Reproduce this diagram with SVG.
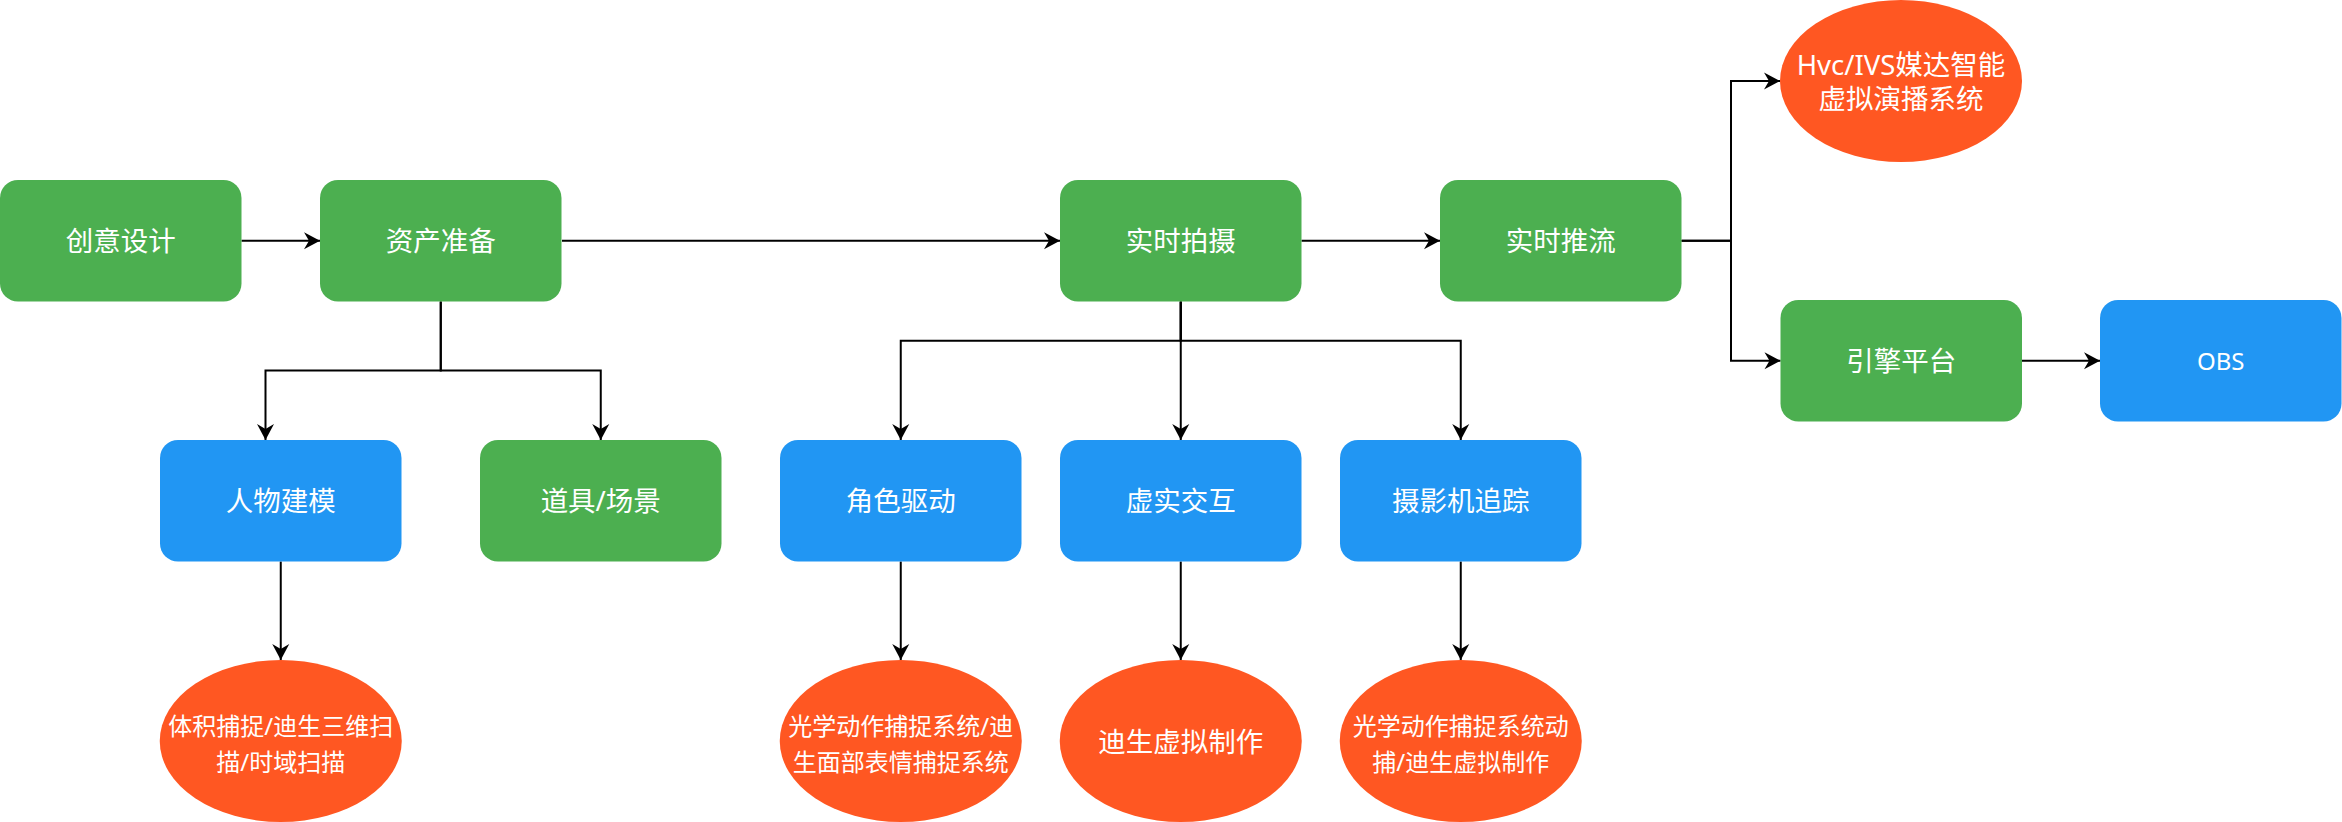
<svg xmlns="http://www.w3.org/2000/svg" width="2342" height="822" viewBox="0 0 2342 822">
<style>
.g{fill:#4CAF50}
.b{fill:#2196F3}
.o{fill:#FF5722}
.t{fill:#FFFFFF;font-family:"Noto Sans","Noto Sans CJK SC",sans-serif;font-size:27.5px;text-anchor:middle;dominant-baseline:central}
.s{font-size:24px}
.e{fill:none;stroke:#000000;stroke-width:2;marker-end:url(#arr)}
</style>
<defs>
<marker id="arr" markerUnits="userSpaceOnUse" markerWidth="20" markerHeight="20" viewBox="-17 -10 20 20" refX="0" refY="0" orient="auto">
<path d="M0,0 L-16,-8.5 L-11,0 L-16,8.5 Z" fill="#000000"/>
</marker>
</defs>
<rect width="2342" height="822" fill="#FFFFFF"/>
<g id="connectors">
<path class="e" d="M241.5,240.75 L320,240.75"/>
<path class="e" d="M562,240.75 L1060,240.75"/>
<path class="e" d="M1301.5,240.75 L1440,240.75"/>
<path class="e" d="M1681.5,240.75 L1731,240.75 L1731,81 L1780,81"/>
<path class="e" d="M1681.5,240.75 L1731,240.75 L1731,360.75 L1780.5,360.75"/>
<path class="e" d="M2021.5,360.75 L2100,360.75"/>
<path class="e" d="M440.75,301.5 L440.75,370.5 L265.5,370.5 L265.5,440"/>
<path class="e" d="M440.75,301.5 L440.75,370.5 L600.75,370.5 L600.75,440"/>
<path class="e" d="M1180.75,301.5 L1180.75,340.75 L900.75,340.75 L900.75,440"/>
<path class="e" d="M1180.75,301.5 L1180.75,440"/>
<path class="e" d="M1180.75,301.5 L1180.75,340.75 L1460.75,340.75 L1460.75,440"/>
<path class="e" d="M280.75,561.5 L280.75,660"/>
<path class="e" d="M900.75,561.5 L900.75,660"/>
<path class="e" d="M1180.75,561.5 L1180.75,660"/>
<path class="e" d="M1460.75,561.5 L1460.75,660"/>
</g>
<g id="n-chuangyi"><rect class="g" x="0" y="180" width="241.5" height="121.5" rx="18"/><text class="t" x="120.75" y="240.75">创意设计</text></g>
<g id="n-zichan"><rect class="g" x="320" y="180" width="241.5" height="121.5" rx="18"/><text class="t" x="440.75" y="240.75">资产准备</text></g>
<g id="n-paishe"><rect class="g" x="1060" y="180" width="241.5" height="121.5" rx="18"/><text class="t" x="1180.75" y="240.75">实时拍摄</text></g>
<g id="n-tuiliu"><rect class="g" x="1440" y="180" width="241.5" height="121.5" rx="18"/><text class="t" x="1560.75" y="240.75">实时推流</text></g>
<g id="n-hvc"><ellipse class="o" cx="1901" cy="81" rx="121" ry="81"/><text class="t" x="1901" y="64">Hvc/IVS媒达智能</text><text class="t" x="1901" y="98">虚拟演播系统</text></g>
<g id="n-yinqing"><rect class="g" x="1780.5" y="300" width="241.5" height="121.5" rx="18"/><text class="t" x="1901.25" y="360.75">引擎平台</text></g>
<g id="n-obs"><rect class="b" x="2100" y="300" width="241.5" height="121.5" rx="18"/><text class="t s" x="2220.75" y="360.75">OBS</text></g>
<g id="n-renwu"><rect class="b" x="160" y="440" width="241.5" height="121.5" rx="18"/><text class="t" x="280.75" y="500.75">人物建模</text></g>
<g id="n-daoju"><rect class="g" x="480" y="440" width="241.5" height="121.5" rx="18"/><text class="t" x="600.75" y="500.75">道具/场景</text></g>
<g id="n-juese"><rect class="b" x="780" y="440" width="241.5" height="121.5" rx="18"/><text class="t" x="900.75" y="500.75">角色驱动</text></g>
<g id="n-xushi"><rect class="b" x="1060" y="440" width="241.5" height="121.5" rx="18"/><text class="t" x="1180.75" y="500.75">虚实交互</text></g>
<g id="n-sheying"><rect class="b" x="1340" y="440" width="241.5" height="121.5" rx="18"/><text class="t" x="1460.75" y="500.75">摄影机追踪</text></g>
<g id="e-tiji"><ellipse class="o" cx="280.75" cy="741" rx="121" ry="81"/><text class="t s" x="280.75" y="725.5">体积捕捉/迪生三维扫</text><text class="t s" x="280.75" y="761.5">描/时域扫描</text></g>
<g id="e-guangxue"><ellipse class="o" cx="900.75" cy="741" rx="121" ry="81"/><text class="t s" x="900.75" y="725.5">光学动作捕捉系统/迪</text><text class="t s" x="900.75" y="761.5">生面部表情捕捉系统</text></g>
<g id="e-disheng"><ellipse class="o" cx="1180.75" cy="741" rx="121" ry="81"/><text class="t" x="1180.75" y="741">迪生虚拟制作</text></g>
<g id="e-dongbu"><ellipse class="o" cx="1460.75" cy="741" rx="121" ry="81"/><text class="t s" x="1460.75" y="725.5">光学动作捕捉系统动</text><text class="t s" x="1460.75" y="761.5">捕/迪生虚拟制作</text></g>
</svg>
